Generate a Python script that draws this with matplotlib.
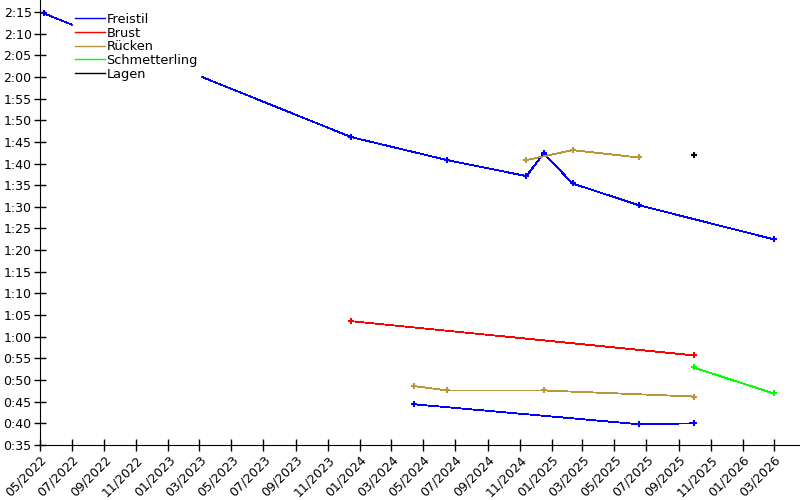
import matplotlib
matplotlib.use("Agg")
import matplotlib.pyplot as plt
import matplotlib.dates as mdates
from matplotlib.ticker import FuncFormatter, MultipleLocator
import pandas as pd

# ---- data (times in seconds) ----
freistil_100_dates = ["2022-05-08", "2023-12-16", "2024-06-16", "2024-11-14",
                      "2024-12-17", "2025-02-10", "2025-06-16", "2026-03-01"]
freistil_100_times = [134.7, 106.1, 100.8, 97.1, 102.4, 95.4, 90.4, 82.5]

freistil_50_dates = ["2024-04-14", "2025-06-16", "2025-09-29"]
freistil_50_times = [44.4, 39.8, 40.0]

brust_50_dates = ["2023-12-16", "2025-09-29"]
brust_50_times = [63.6, 55.7]

ruecken_100_dates = ["2024-11-14", "2025-02-10", "2025-06-16"]
ruecken_100_times = [100.8, 103.1, 101.4]

ruecken_50_dates = ["2024-04-14", "2024-06-16", "2024-12-17", "2025-09-29"]
ruecken_50_times = [48.6, 47.6, 47.6, 46.2]

schmetterling_50_dates = ["2025-09-29", "2026-03-01"]
schmetterling_50_times = [52.9, 46.9]

lagen_100_dates = ["2025-09-29"]
lagen_100_times = [101.9]

series = [
    ("Freistil", "#0000ff", freistil_100_dates, freistil_100_times),
    ("Freistil", "#0000ff", freistil_50_dates, freistil_50_times),
    ("Brust", "#ff0000", brust_50_dates, brust_50_times),
    ("Rücken", "#b8963c", ruecken_100_dates, ruecken_100_times),
    ("Rücken", "#b8963c", ruecken_50_dates, ruecken_50_times),
    ("Schmetterling", "#00ff00", schmetterling_50_dates, schmetterling_50_times),
    ("Lagen", "#000000", lagen_100_dates, lagen_100_times),
]

plt.rcParams["font.family"] = ["DejaVu Sans"]
fig = plt.figure(figsize=(8, 5), dpi=100)
ax = fig.add_axes([0.05, 0.11, 0.95, 0.89])

seen = set()
for name, color, d, t in series:
    label = name if name not in seen else None
    seen.add(name)
    ax.plot(pd.to_datetime(d), t, color=color, lw=0.6, marker="+",
            markersize=5, markeredgewidth=1.5, label=label, antialiased=False)

ax.set_xlim(pd.Timestamp("2022-05-01"), pd.Timestamp("2026-04-20"))
ax.set_ylim(35, 137.77)

ax.yaxis.set_major_locator(MultipleLocator(5))
ax.yaxis.set_major_formatter(FuncFormatter(lambda v, p: f"{int(round(v))//60}:{int(round(v))%60:02d}"))
ax.xaxis.set_major_locator(mdates.MonthLocator(bymonth=[1, 3, 5, 7, 9, 11]))
ax.xaxis.set_major_formatter(mdates.DateFormatter("%m/%Y"))

for lab in ax.get_xticklabels():
    lab.set_rotation(45)
    lab.set_ha("right")
    lab.set_rotation_mode("anchor")

ax.tick_params(direction="inout", length=8, width=1, labelsize=9, pad=2)
for s in ["top", "right"]:
    ax.spines[s].set_visible(False)

leg = ax.legend(loc="upper left", bbox_to_anchor=(73 / 800, 1 - 11 / 500),
                bbox_transform=fig.transFigure, frameon=True, fontsize=9.3,
                handlelength=2.35, handletextpad=0.1, labelspacing=0.05,
                borderpad=0.15, borderaxespad=0, fancybox=False)
leg.get_frame().set_facecolor("white")
leg.get_frame().set_edgecolor("white")
leg.get_frame().set_alpha(1.0)
for h in leg.get_lines():
    h.set_marker("")
    h.set_linewidth(1.0)

fig.savefig("out.png", dpi=100)
